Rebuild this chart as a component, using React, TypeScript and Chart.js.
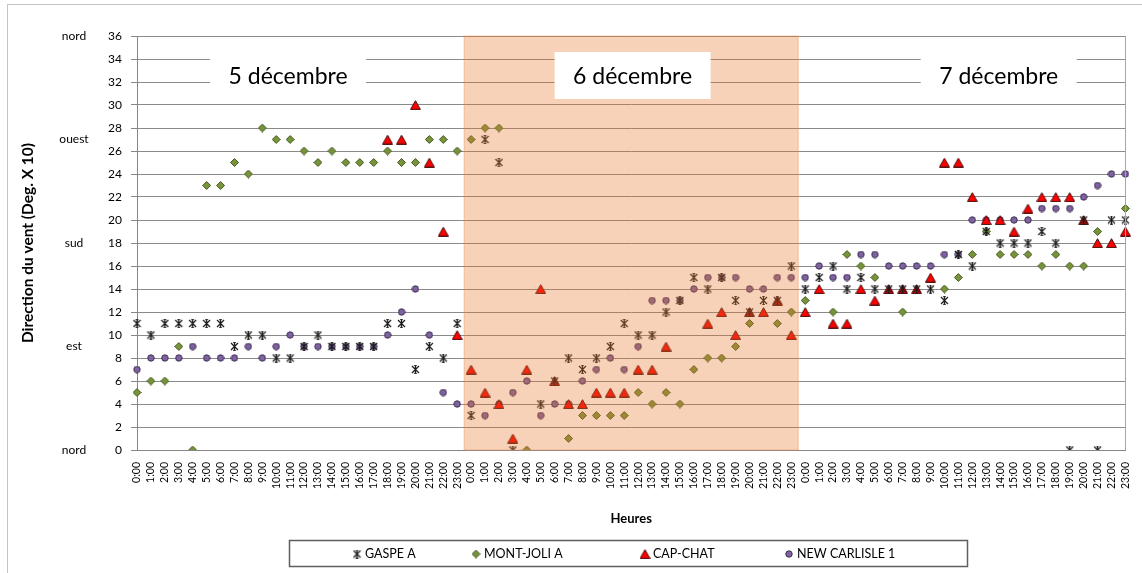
import React, { useEffect, useRef } from "react";
import { Chart, registerables } from "chart.js";

Chart.register(...registerables);

// ---------- DATA ----------
const HOURS = [
  "0:00", "1:00", "2:00", "3:00", "4:00", "5:00", "6:00", "7:00", "8:00", "9:00", "10:00", "11:00",
  "12:00", "13:00", "14:00", "15:00", "16:00", "17:00", "18:00", "19:00", "20:00", "21:00", "22:00", "23:00",
];
const CATEGORIES = [...HOURS, ...HOURS, ...HOURS];
const DAY_LABELS = ["5 décembre", "6 décembre", "7 décembre"];
const Y_MIN = 0;
const Y_MAX = 36;
const Y_STEP = 2;
const DIRECTION_VALUES = [36, 27, 18, 9, 0];
const DIRECTION_NAMES = ["nord", "ouest", "sud", "est", "nord"];
const SERIES_NAMES = ["GASPE A", "MONT-JOLI A", "CAP-CHAT", "NEW CARLISLE 1"];
const Y_TITLE = "Direction du vent (Deg. X 10)";
const X_TITLE = "Heures";

const N = null;
const GASPE_A = [
  11, 10, 11, 11, 11, 11, 11, 9, 10, 10, 8, 8, 9, 10, 9, 9, 9, 9, 11, 11, 7, 9, 8, 11,
  3, 27, 25, 0, N, 4, 6, 8, 7, 8, 9, 11, 10, 10, 12, 13, 15, 14, 15, 13, 12, 13, 13, 16,
  14, 15, 16, 14, 15, 14, 14, 14, 14, 14, 13, 17, 16, 19, 18, 18, 18, 19, 18, 0, 20, 0, 20, 20,
];
const MONT_JOLI_A = [
  5, 6, 6, 9, 0, 23, 23, 25, 24, 28, 27, 27, 26, 25, 26, 25, 25, 25, 26, 25, 25, 27, 27, 26,
  27, 28, 28, N, 0, N, N, 1, 3, 3, 3, 3, 5, 4, 5, 4, 7, 8, 8, 9, 11, N, 11, 12,
  13, N, 12, 17, 16, 15, N, 12, N, N, 14, 15, 17, 19, 17, 17, 17, 16, 17, 16, 16, 19, N, 21,
];
const CAP_CHAT = [
  N, N, N, N, N, N, N, N, N, N, N, N, N, N, N, N, N, N, 27, 27, 30, 25, 19, 10,
  7, 5, 4, 1, 7, 14, 6, 4, 4, 5, 5, 5, 7, 7, 9, N, N, 11, 12, 10, 12, 12, 13, 10,
  12, 14, 11, 11, 14, 13, 14, 14, 14, 15, 25, 25, 22, 20, 20, 19, 21, 22, 22, 22, 20, 18, 18, 19,
];
const NEW_CARLISLE_1 = [
  7, 8, 8, 8, 9, 8, 8, 8, 9, 8, 9, 10, 9, 9, 9, 9, 9, 9, 10, 12, 14, 10, 5, 4,
  4, 3, 4, 5, 6, 3, 4, 4, 6, 7, 8, 7, 9, 13, 13, 13, 14, 15, 15, 15, 14, 14, 15, 15,
  15, 16, 15, 15, 17, 17, 16, 16, 16, 16, 17, 17, 20, 20, 20, 20, 20, 21, 21, 21, 22, 23, 24, 24,
];

// ---------- MARKERS ----------
function makeMarker(kind: string): HTMLCanvasElement {
  const c = document.createElement("canvas");
  const ctx = c.getContext("2d")!;
  if (kind === "star") {
    c.width = 9; c.height = 9;
    ctx.strokeStyle = "#1a1a1a";
    ctx.lineWidth = 1.2;
    ctx.beginPath();
    ctx.moveTo(1, 1); ctx.lineTo(8, 8);
    ctx.moveTo(8, 1); ctx.lineTo(1, 8);
    ctx.moveTo(4.5, 0.5); ctx.lineTo(4.5, 8.5);
    ctx.stroke();
    ctx.lineWidth = 1;
    ctx.beginPath();
    ctx.moveTo(3.2, 0.6); ctx.lineTo(5.8, 0.6);
    ctx.moveTo(3.2, 8.4); ctx.lineTo(5.8, 8.4);
    ctx.stroke();
  } else if (kind === "diamond") {
    c.width = 9; c.height = 9;
    ctx.beginPath();
    ctx.moveTo(4.5, 0.5); ctx.lineTo(8.5, 4.5); ctx.lineTo(4.5, 8.5); ctx.lineTo(0.5, 4.5); ctx.closePath();
    ctx.fillStyle = "#77933C"; ctx.fill();
    ctx.strokeStyle = "#4b5d24"; ctx.lineWidth = 1; ctx.stroke();
  } else if (kind === "triangle") {
    c.width = 11; c.height = 10;
    ctx.beginPath();
    ctx.moveTo(5.5, 0.7); ctx.lineTo(10.4, 9.4); ctx.lineTo(0.6, 9.4); ctx.closePath();
    ctx.fillStyle = "#FF0000"; ctx.fill();
    ctx.strokeStyle = "#4a0a0a"; ctx.lineWidth = 1; ctx.stroke();
  } else {
    c.width = 8; c.height = 8;
    ctx.beginPath();
    ctx.arc(4, 4, 3.2, 0, Math.PI * 2);
    ctx.fillStyle = "#8064A2"; ctx.fill();
    ctx.strokeStyle = "#3b2c52"; ctx.lineWidth = 1; ctx.stroke();
  }
  return c;
}

const FONT = "Lato, 'Liberation Sans', sans-serif";

export default function App() {
  const ref = useRef<HTMLCanvasElement | null>(null);

  useEffect(() => {
    document.body.style.margin = "0";
    const canvas = ref.current!;
    const markers = [makeMarker("star"), makeMarker("diamond"), makeMarker("triangle"), makeMarker("circle")];
    const seriesData = [GASPE_A, MONT_JOLI_A, CAP_CHAT, NEW_CARLISLE_1];

    const decor = {
      id: "decor",
      beforeDraw(chart: any) {
        const ctx = chart.ctx;
        ctx.save();
        ctx.fillStyle = "#ffffff";
        ctx.fillRect(0, 0, chart.width, chart.height);
        ctx.strokeStyle = "#c4c4c4";
        ctx.lineWidth = 1;
        ctx.strokeRect(7.5, 4.5, 1160, 620);
        ctx.restore();
      },
      afterDatasetsDraw(chart: any) {
        const ctx = chart.ctx;
        const area = chart.chartArea;
        const xs = chart.scales.x;
        ctx.save();
        // day-2 band
        const x1 = xs.getPixelForValue(23.5);
        const x2 = xs.getPixelForValue(47.5);
        ctx.fillStyle = "rgba(232,118,40,0.33)";
        ctx.fillRect(x1, area.top, x2 - x1, area.bottom - area.top);
        ctx.strokeStyle = "rgba(232,140,80,0.45)";
        ctx.lineWidth = 1;
        ctx.strokeRect(x1, area.top, x2 - x1, area.bottom - area.top);
        // right border of plot area
        ctx.strokeStyle = "#a6a6a6";
        ctx.lineWidth = 1;
        ctx.beginPath();
        ctx.moveTo(Math.round(area.right) + 0.5, area.top);
        ctx.lineTo(Math.round(area.right) + 0.5, area.bottom);
        ctx.stroke();
        // day label boxes
        const boxCenters = [10.85, 35.6, 61.9];
        ctx.font = `23px ${FONT}`;
        ctx.textAlign = "center";
        ctx.textBaseline = "alphabetic";
        DAY_LABELS.forEach((lab, i) => {
          const cx = xs.getPixelForValue(boxCenters[i]);
          const w = 156, h = 47;
          const top = area.top + 16;
          ctx.fillStyle = "#ffffff";
          ctx.fillRect(cx - w / 2, top, w, h);
          ctx.fillStyle = "#000000";
          ctx.fillText(lab, cx, top + 32);
        });
        ctx.restore();
      },
      afterDraw(chart: any) {
        const ctx = chart.ctx;
        const ys = chart.scales.y;
        ctx.save();
        // direction names
        ctx.font = `12px ${FONT}`;
        ctx.fillStyle = "#000";
        ctx.textAlign = "center";
        ctx.textBaseline = "middle";
        DIRECTION_VALUES.forEach((v, i) => {
          ctx.fillText(DIRECTION_NAMES[i], 74, ys.getPixelForValue(v));
        });
        // legend
        ctx.strokeStyle = "#5e5e5e";
        ctx.lineWidth = 1.5;
        ctx.strokeRect(289.5, 540.5, 678, 26);
        const itemX = [357, 476, 645, 789];
        const ly = 554;
        ctx.textAlign = "left";
        ctx.font = `12.5px ${FONT}`;
        SERIES_NAMES.forEach((name, i) => {
          const m = markers[i];
          ctx.drawImage(m, itemX[i] - m.width / 2, ly - m.height / 2);
          ctx.fillStyle = "#000";
          ctx.fillText(name, itemX[i] + 8, ly);
        });
        ctx.restore();
      },
    };

    const chart = new Chart(canvas, {
      type: "line",
      data: {
        labels: CATEGORIES,
        datasets: SERIES_NAMES.map((name, i) => ({
          label: name,
          data: seriesData[i],
          showLine: false,
          pointStyle: markers[i] as any,
          pointRadius: 5,
          pointHoverRadius: 5,
          borderColor: "#000",
          backgroundColor: "#000",
        })),
      },
      options: {
        animation: false,
        responsive: false,
        devicePixelRatio: 1,
        events: [],
        layout: { padding: { left: 0, top: 36, right: 15, bottom: 0 } },
        plugins: {
          legend: { display: false },
          tooltip: { enabled: false },
        },
        scales: {
          x: {
            type: "category",
            afterFit: (s: any) => { s.height = 123; },
            grid: { display: false },
            border: { display: true, color: "#868686" },
            ticks: {
              autoSkip: false,
              maxRotation: 90,
              minRotation: 90,
              padding: 4,
              color: "#000",
              font: { family: FONT, size: 10.5 },
            },
            title: {
              display: true,
              text: X_TITLE,
              color: "#000",
              font: { family: FONT, size: 13, weight: "bold" },
              padding: { top: 0, bottom: 46 },
            },
          },
          y: {
            min: Y_MIN,
            max: Y_MAX,
            afterFit: (s: any) => { s.width = 137; },
            grid: { color: "#8a8a8a", lineWidth: 1, tickLength: 6, tickColor: "#868686" },
            border: { display: true, color: "#868686" },
            ticks: {
              stepSize: Y_STEP,
              padding: 9,
              color: "#000",
              font: { family: FONT, size: 12 },
            },
            title: {
              display: true,
              text: Y_TITLE,
              color: "#000",
              font: { family: FONT, size: 15.5, weight: "bold" },
              padding: { top: 19, bottom: 0 },
            },
          },
        },
      },
      plugins: [decor],
    } as any);
    return () => chart.destroy();
  }, []);

  return (
    <div style={{ position: "absolute", left: 0, top: 0, width: 1142, height: 573 }}>
      <canvas ref={ref} width={1142} height={573} style={{ width: 1142, height: 573, display: "block" }} />
    </div>
  );
}
